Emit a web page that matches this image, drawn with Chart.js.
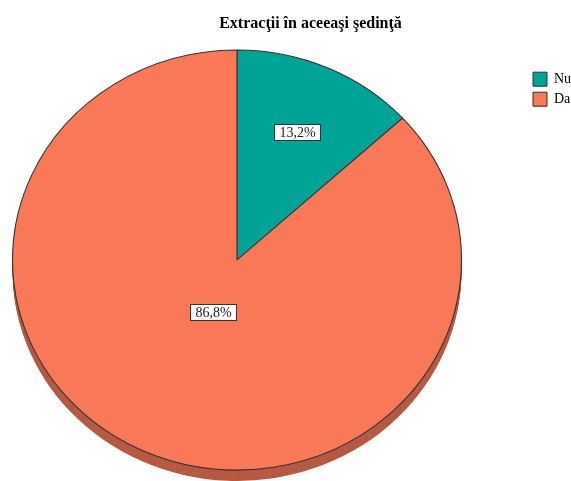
<!DOCTYPE html>
<html>
<head>
<meta charset="utf-8">
<script src="https://cdn.jsdelivr.net/npm/chart.js@4"></script>
<style>
html, body { margin: 0; padding: 0; background: #fff; }
#cadru { width: 571px; height: 481px; }
</style>
</head>
<body>
<div id="cadru"><canvas id="grafic"></canvas></div>
<script>
const titlu = "Extracţii în aceeaşi şedinţă";
const categorii = ["Nu", "Da"];
const procente = [13.2, 86.8];
const culori = ["#00a496", "#f87858"];
const culoriLaterale = ["#00786e", "#b65a44"];

const serif = "'Liberation Serif', 'Times New Roman', serif";
const eticheta = v => v.toFixed(1).replace(".", ",") + "%";

// pie drawn as a flattened disc with a thin side, labels in white boxes
const disc = {
  id: "disc",
  beforeDatasetsDraw(chart, args, o) {
    const meta = chart.getDatasetMeta(0);
    const { x, y, outerRadius } = meta.data[0];
    const ctx = chart.ctx;
    const sx = o.rx / outerRadius, sy = o.ry / outerRadius;

    for (let d = o.adancime; d > 0; d--) {
      ctx.save();
      ctx.translate(o.cx, o.cy + d);
      ctx.scale(sx, sy);
      ctx.translate(-x, -y);
      meta.data.forEach((arc, i) => {
        ctx.beginPath();
        ctx.moveTo(x, y);
        ctx.arc(x, y, arc.outerRadius, arc.startAngle, arc.endAngle);
        ctx.closePath();
        ctx.fillStyle = culoriLaterale[i];
        ctx.fill();
      });
      ctx.restore();
    }

    ctx.save();
    ctx.translate(o.cx, o.cy);
    ctx.scale(sx, sy);
    ctx.translate(-x, -y);
  },
  afterDatasetsDraw(chart, args, o) {
    const ctx = chart.ctx;
    ctx.restore();

    const meta = chart.getDatasetMeta(0);
    ctx.save();
    ctx.font = "14px " + serif;
    ctx.textAlign = "center";
    ctx.textBaseline = "middle";
    meta.data.forEach((arc, i) => {
      const mij = (arc.startAngle + arc.endAngle) / 2;
      const f = o.distante[i];
      const px = o.cx + Math.cos(mij) * o.rx * f;
      const py = o.cy + Math.sin(mij) * o.ry * f;
      const txt = eticheta(procente[i]);
      const w = Math.round(ctx.measureText(txt).width + 10);
      const h = 16;
      const bx = Math.round(px - w / 2) + 0.5;
      const by = Math.round(py - h / 2) + 0.5;
      ctx.fillStyle = "#fff";
      ctx.fillRect(bx, by, w, h);
      ctx.strokeStyle = "#333";
      ctx.lineWidth = 1;
      ctx.strokeRect(bx, by, w, h);
      ctx.fillStyle = "#222";
      ctx.fillText(txt, bx + w / 2, by + h / 2 + 1);
    });
    ctx.restore();
  }
};

new Chart(document.getElementById("grafic"), {
  type: "pie",
  data: {
    labels: categorii,
    datasets: [{
      data: procente,
      backgroundColor: culori,
      borderColor: "#333",
      borderWidth: 1,
      clip: false
    }]
  },
  options: {
    responsive: true,
    maintainAspectRatio: false,
    animation: false,
    layout: { padding: { left: 50 } },
    plugins: {
      title: {
        display: true,
        text: titlu,
        color: "#000",
        font: { family: serif, size: 16, weight: "bold" },
        padding: { top: 14, bottom: 33 }
      },
      legend: {
        position: "right",
        align: "start",
        fullSize: false,
        maxWidth: 44,
        labels: {
          boxWidth: 14,
          boxHeight: 14,
          padding: 6,
          color: "#000",
          font: { family: serif, size: 14 }
        }
      },
      tooltip: { enabled: false },
      disc: { cx: 237, cy: 260, rx: 224.5, ry: 210, adancime: 11, distante: [0.665, 0.27] }
    }
  },
  plugins: [disc]
});
</script>
</body>
</html>
